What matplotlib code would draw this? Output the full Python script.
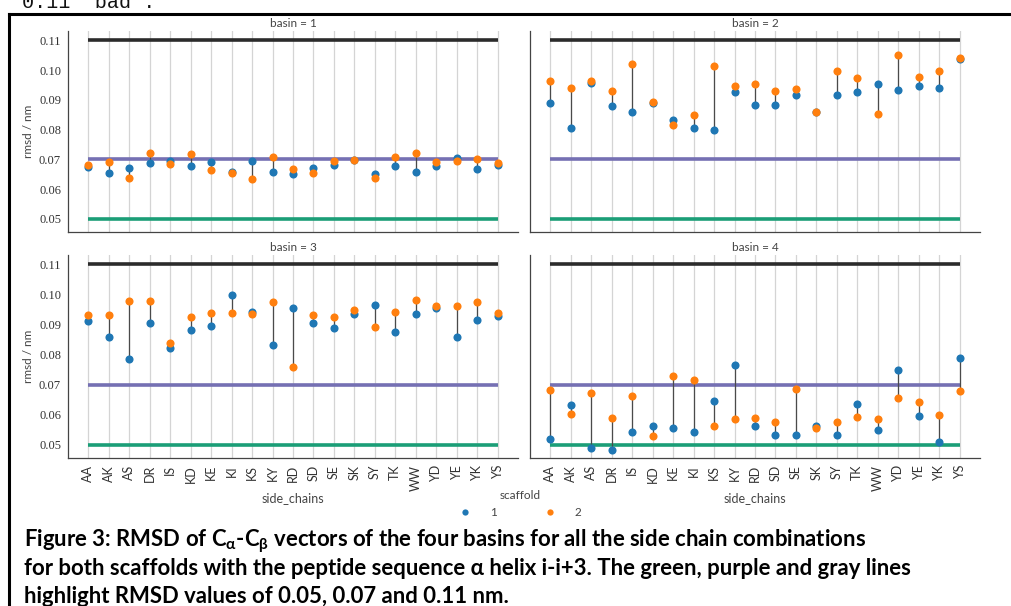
import matplotlib
matplotlib.use("Agg")
import matplotlib.pyplot as plt
from matplotlib.lines import Line2D
import numpy as np

# ---- data ----
side_chains = ['AA', 'AK', 'AS', 'DR', 'IS', 'KD', 'KE', 'KI', 'KS', 'KY', 'RD',
               'SD', 'SE', 'SK', 'SY', 'TK', 'WW', 'YD', 'YE', 'YK', 'YS']

basin1_s1 = [0.0675, 0.0653, 0.0671, 0.0689, 0.0694, 0.0678, 0.0691, 0.0659, 0.0694, 0.0657, 0.0650,
             0.0671, 0.0680, 0.0698, 0.0651, 0.0679, 0.0656, 0.0678, 0.0703, 0.0669, 0.0680]
basin1_s2 = [0.0682, 0.0690, 0.0637, 0.0720, 0.0683, 0.0718, 0.0665, 0.0653, 0.0633, 0.0709, 0.0668,
             0.0655, 0.0693, 0.0698, 0.0637, 0.0708, 0.0720, 0.0691, 0.0694, 0.0701, 0.0689]

basin2_s1 = [0.0890, 0.0806, 0.0957, 0.0879, 0.0860, 0.0889, 0.0831, 0.0806, 0.0800, 0.0927, 0.0882,
             0.0884, 0.0917, 0.0859, 0.0917, 0.0925, 0.0953, 0.0932, 0.0946, 0.0938, 0.1038]
basin2_s2 = [0.0963, 0.0938, 0.0964, 0.0929, 0.1021, 0.0894, 0.0814, 0.0848, 0.1013, 0.0946, 0.0952,
             0.0929, 0.0936, 0.0859, 0.0995, 0.0974, 0.0853, 0.1052, 0.0975, 0.0995, 0.1039]

basin3_s1 = [0.0913, 0.0857, 0.0785, 0.0906, 0.0821, 0.0882, 0.0894, 0.0999, 0.0940, 0.0831, 0.0955,
             0.0904, 0.0887, 0.0934, 0.0966, 0.0876, 0.0935, 0.0954, 0.0858, 0.0916, 0.0928]
basin3_s2 = [0.0932, 0.0930, 0.0977, 0.0977, 0.0840, 0.0924, 0.0937, 0.0939, 0.0934, 0.0974, 0.0760,
             0.0932, 0.0924, 0.0949, 0.0890, 0.0943, 0.0981, 0.0962, 0.0962, 0.0975, 0.0938]

basin4_s1 = [0.0520, 0.0632, 0.0489, 0.0482, 0.0541, 0.0564, 0.0557, 0.0543, 0.0644, 0.0766, 0.0562,
             0.0532, 0.0531, 0.0564, 0.0531, 0.0637, 0.0549, 0.0748, 0.0595, 0.0509, 0.0788]
basin4_s2 = [0.0682, 0.0603, 0.0673, 0.0589, 0.0663, 0.0528, 0.0727, 0.0716, 0.0564, 0.0587, 0.0590,
             0.0575, 0.0685, 0.0557, 0.0575, 0.0591, 0.0586, 0.0656, 0.0641, 0.0600, 0.0680]

basins = [1, 2, 3, 4]
scaffold1 = [basin1_s1, basin2_s1, basin3_s1, basin4_s1]
scaffold2 = [basin1_s2, basin2_s2, basin3_s2, basin4_s2]

thresholds = [0.05, 0.07, 0.11]
threshold_colors = ['#1b9e77', '#7570b3', '#2b2b2b']
yticks = [0.05, 0.06, 0.07, 0.08, 0.09, 0.10, 0.11]

caption = [
    r"Figure 3: RMSD of C$_\mathbf{\alpha}$-C$_\mathbf{\beta}$ vectors of the four basins for all the side chain combinations",
    "for both scaffolds with the peptide sequence α helix i-i+3. The green, purple and gray lines",
    "highlight RMSD values of 0.05, 0.07 and 0.11 nm.",
]

BLUE = '#1f77b4'
ORANGE = '#ff7f0e'
W, H = 1011, 606

plt.rcParams['mathtext.fontset'] = 'custom'
plt.rcParams['mathtext.rm'] = 'Lato'
plt.rcParams['mathtext.it'] = 'Lato:italic'
plt.rcParams['mathtext.bf'] = 'Lato:bold'

fig = plt.figure(figsize=(W / 100, H / 100), dpi=100)


def px_rect(left, top, right, bottom):
    return [left / W, 1 - bottom / H, (right - left) / W, (bottom - top) / H]


rects = [px_rect(68, 31, 518, 232), px_rect(530, 31, 980, 232),
         px_rect(68, 255, 518, 458), px_rect(530, 255, 980, 458)]

x = np.arange(len(side_chains))
for i, b in enumerate(basins):
    ax = fig.add_axes(rects[i])
    s1 = np.array(scaffold1[i])
    s2 = np.array(scaffold2[i])

    for xi in x:
        ax.axvline(xi, color='#d4d4d4', lw=0.9, zorder=0)
    for t, c in zip(thresholds, threshold_colors):
        ax.hlines(t, x[0], x[-1], color=c, lw=2.6, zorder=1)
    ax.vlines(x, np.minimum(s1, s2), np.maximum(s1, s2), color='#4a4a4a', lw=0.9, zorder=2)
    ax.scatter(x, s1, s=34, color=BLUE, zorder=3, linewidths=0)
    ax.scatter(x, s2, s=34, color=ORANGE, zorder=4, linewidths=0)

    ax.set_xlim(-1, len(side_chains))
    ax.set_ylim(0.0456, 0.1131)
    ax.set_yticks(yticks)
    ax.set_xticks(x)
    ax.set_xticklabels(side_chains, rotation=90, family='Lato', fontsize=9, color='#333333')
    ax.set_yticklabels([f"{v:.2f}" for v in yticks], family='Liberation Serif', fontsize=9,
                       color='#333333')
    ax.tick_params(length=0, pad=5)
    for side in ['top', 'right']:
        ax.spines[side].set_visible(False)
    for side in ['left', 'bottom']:
        ax.spines[side].set_color('#444444')
        ax.spines[side].set_linewidth(0.9)
    ax.set_title(f"basin = {b}", family='Lato', fontsize=8.5, color='#444444', pad=3)

    if i < 2:
        ax.tick_params(labelbottom=False)
    else:
        ax.set_xlabel("side_chains", family='Lato', fontsize=9, color='#444444', labelpad=1)
    if i % 2 == 1:
        ax.tick_params(labelleft=False)
    else:
        ax.set_ylabel("rmsd / nm", family='Lato', fontsize=8.5, color='#444444', labelpad=3.5)

# legend
handles = [Line2D([], [], marker='o', ls='', color=BLUE, ms=4.5, mew=0, label='1'),
           Line2D([], [], marker='o', ls='', color=ORANGE, ms=4.5, mew=0, label='2')]
leg = fig.legend(handles=handles, title='scaffold', loc='center', ncol=2,
                 bbox_to_anchor=(520 / W, 1 - 504 / H), frameon=False,
                 prop={'family': 'Lato', 'size': 8.5}, title_fontproperties={'family': 'Lato', 'size': 8.5},
                 columnspacing=4.0, handletextpad=1.6, handlelength=1.0)
leg.get_title().set_color('#444444')
for t in leg.get_texts():
    t.set_color('#444444')

# document framing: text above the figure and box edges
fig.text(22 / W, 1 - 7.5 / H, "0.11 'bad'.", family='Liberation Mono', fontsize=14.5,
         va='baseline', ha='left', color='#111111')
fig.add_artist(Line2D([9 / W, 1], [1 - 14 / H, 1 - 14 / H], color='black', lw=2.2))
fig.add_artist(Line2D([9 / W, 9 / W], [1 - 14 / H, 0], color='black', lw=2.2))

# caption: one font size, fitted so the three lines together span the reference widths
cap_props = dict(family=['Lato', 'DejaVu Sans'], weight='bold', color='black', ha='left', va='baseline')
probes = [fig.text(0.5, 0.5, line, fontsize=14, **cap_props) for line in caption]
fig.canvas.draw()
ext = [p.get_window_extent() for p in probes]
for p in probes:
    p.remove()
cap_size = 14 * 2220 / sum(e.width for e in ext)
for line, e, base in zip(caption, ext, [546.5, 575, 603]):
    lead = (e.x0 - 0.5 * W) * cap_size / 14
    fig.text((24 - lead) / W, 1 - base / H, line, fontsize=cap_size, **cap_props)

fig.savefig("out.png", dpi=100)
